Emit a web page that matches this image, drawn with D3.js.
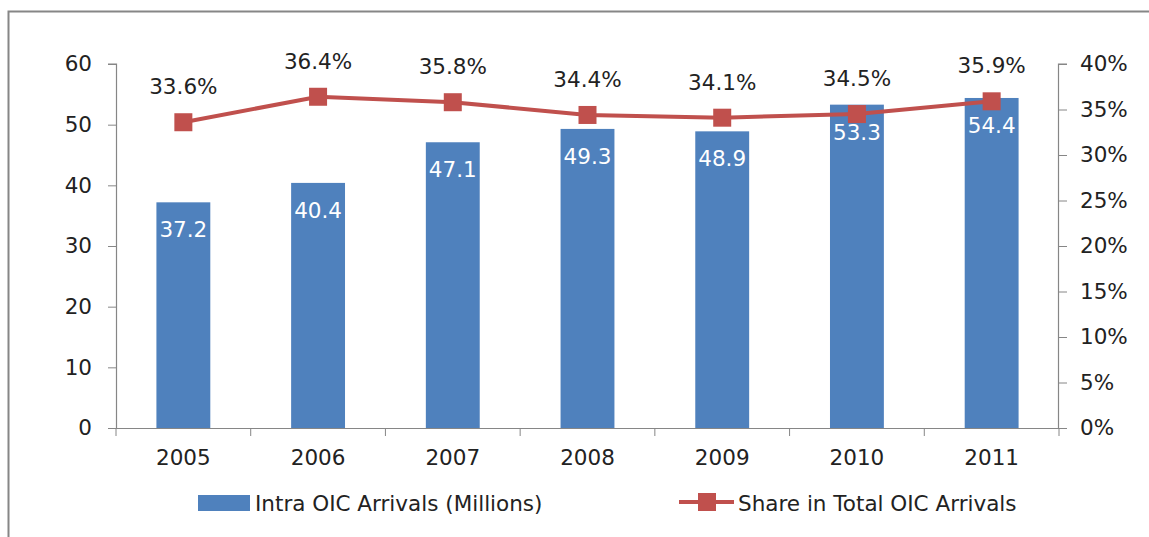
<!DOCTYPE html>
<html>
<head>
<meta charset="utf-8">
<script src="https://cdn.jsdelivr.net/npm/d3@7"></script>
<style>
  body { margin: 0; background: #fff; }
  svg { display: block; font-family: "DejaVu Sans", sans-serif; }
</style>
</head>
<body>
<div id="chart"></div>
<script>
// chart data
var years = ["2005", "2006", "2007", "2008", "2009", "2010", "2011"];
var arrivals = [37.2, 40.4, 47.1, 49.3, 48.9, 53.3, 54.4];
var share = [33.6, 36.4, 35.8, 34.4, 34.1, 34.5, 35.9];
var leftTicks = [0, 10, 20, 30, 40, 50, 60];
var rightTicks = [0, 5, 10, 15, 20, 25, 30, 35, 40];
var barName = "Intra OIC Arrivals (Millions)";
var lineName = "Share in Total OIC Arrivals";

var W = 1149, H = 537;
var plotLeft = 116, plotRight = 1059, plotTop = 64, plotBottom = 428;
var barColor = "#4F81BD", lineColor = "#C0504D", axisColor = "#868686";
var fs = "21.5px";

var svg = d3.select("#chart").append("svg")
    .attr("width", W)
    .attr("height", H);

// outer frame (only top and left edge visible)
svg.append("path")
    .attr("d", "M8.5," + H + "V11.5H" + W)
    .attr("fill", "none")
    .attr("stroke", axisColor)
    .attr("stroke-width", 2);

var x = d3.scaleBand()
    .domain(years)
    .range([plotLeft, plotRight])
    .paddingInner(0.6)
    .paddingOuter(0.3);

// band for ticks (full category width)
var xc = d3.scaleBand().domain(years).range([plotLeft, plotRight]);

var y = d3.scaleLinear().domain([0, 60]).range([plotBottom, plotTop]);
var y2 = d3.scaleLinear().domain([0, 40]).range([plotBottom, plotTop]);

// left axis
var gl = svg.append("g")
    .attr("transform", "translate(" + plotLeft + ",0)")
    .call(d3.axisLeft(y).tickValues(leftTicks).tickSize(8).tickPadding(16));
// right axis
var gr = svg.append("g")
    .attr("transform", "translate(" + plotRight + ",0)")
    .call(d3.axisRight(y2).tickValues(rightTicks).tickSize(8).tickPadding(13)
      .tickFormat(function(d) { return d + "%"; }));
// bottom axis
var gb = svg.append("g")
    .attr("transform", "translate(0," + plotBottom + ")")
    .call(d3.axisBottom(xc).tickSize(0).tickPadding(22));

// category boundary ticks on x axis
gb.selectAll("line.sep")
    .data(d3.range(years.length + 1))
    .enter().append("line")
    .attr("class", "sep")
    .attr("x1", function(i) { return plotLeft + i * xc.step(); })
    .attr("x2", function(i) { return plotLeft + i * xc.step(); })
    .attr("y1", 0).attr("y2", 8)
    .attr("stroke", axisColor);

[gl, gr, gb].forEach(function(g) {
  g.select(".domain").attr("stroke", axisColor).attr("stroke-width", 1.2);
  g.selectAll(".tick line").attr("stroke", axisColor);
  g.selectAll("text")
    .attr("font-family", "DejaVu Sans, sans-serif")
    .attr("font-size", fs)
    .attr("fill", "#222");
});
gl.select(".domain").attr("d", "M0.5," + plotBottom + "V" + plotTop + "H-8");
gr.select(".domain").attr("d", "M-0.5," + plotBottom + "V" + plotTop + "H8");
gb.select(".domain").attr("d", "M" + (plotLeft - 8) + ",0.5H" + plotRight);

// bars
svg.selectAll("rect.bar")
    .data(arrivals)
    .enter().append("rect")
    .attr("class", "bar")
    .attr("x", function(d, i) { return x(years[i]); })
    .attr("y", function(d) { return y(d); })
    .attr("width", x.bandwidth())
    .attr("height", function(d) { return plotBottom - y(d); })
    .attr("fill", barColor);

// bar labels
svg.selectAll("text.barlab")
    .data(arrivals)
    .enter().append("text")
    .attr("class", "barlab")
    .attr("x", function(d, i) { return x(years[i]) + x.bandwidth() / 2; })
    .attr("y", function(d) { return y(d) + 35; })
    .attr("text-anchor", "middle")
    .attr("font-size", fs)
    .attr("fill", "#fff")
    .text(function(d) { return d.toFixed(1); });

// line
var line = d3.line()
    .x(function(d, i) { return xc(years[i]) + xc.bandwidth() / 2; })
    .y(function(d) { return y2(d); });

svg.append("path")
    .datum(share)
    .attr("d", line)
    .attr("fill", "none")
    .attr("stroke", lineColor)
    .attr("stroke-width", 4);

svg.selectAll("rect.marker")
    .data(share)
    .enter().append("rect")
    .attr("class", "marker")
    .attr("x", function(d, i) { return xc(years[i]) + xc.bandwidth() / 2 - 9; })
    .attr("y", function(d) { return y2(d) - 9; })
    .attr("width", 18)
    .attr("height", 18)
    .attr("fill", lineColor);

svg.selectAll("text.linelab")
    .data(share)
    .enter().append("text")
    .attr("class", "linelab")
    .attr("x", function(d, i) { return xc(years[i]) + xc.bandwidth() / 2; })
    .attr("y", function(d) { return y2(d) - 28; })
    .attr("text-anchor", "middle")
    .attr("font-size", fs)
    .attr("fill", "#222")
    .text(function(d) { return d.toFixed(1) + "%"; });

// legend
var lg = svg.append("g");
lg.append("rect")
    .attr("x", 198).attr("y", 495).attr("width", 52).attr("height", 16)
    .attr("fill", barColor);
lg.append("text")
    .attr("x", 255).attr("y", 511)
    .attr("font-size", fs).attr("fill", "#222")
    .text(barName);
lg.append("line")
    .attr("x1", 679).attr("x2", 734).attr("y1", 502).attr("y2", 502)
    .attr("stroke", lineColor).attr("stroke-width", 4);
lg.append("rect")
    .attr("x", 698).attr("y", 493).attr("width", 18).attr("height", 18)
    .attr("fill", lineColor);
lg.append("text")
    .attr("x", 738).attr("y", 511)
    .attr("font-size", fs).attr("fill", "#222")
    .text(lineName);
</script>
</body>
</html>
